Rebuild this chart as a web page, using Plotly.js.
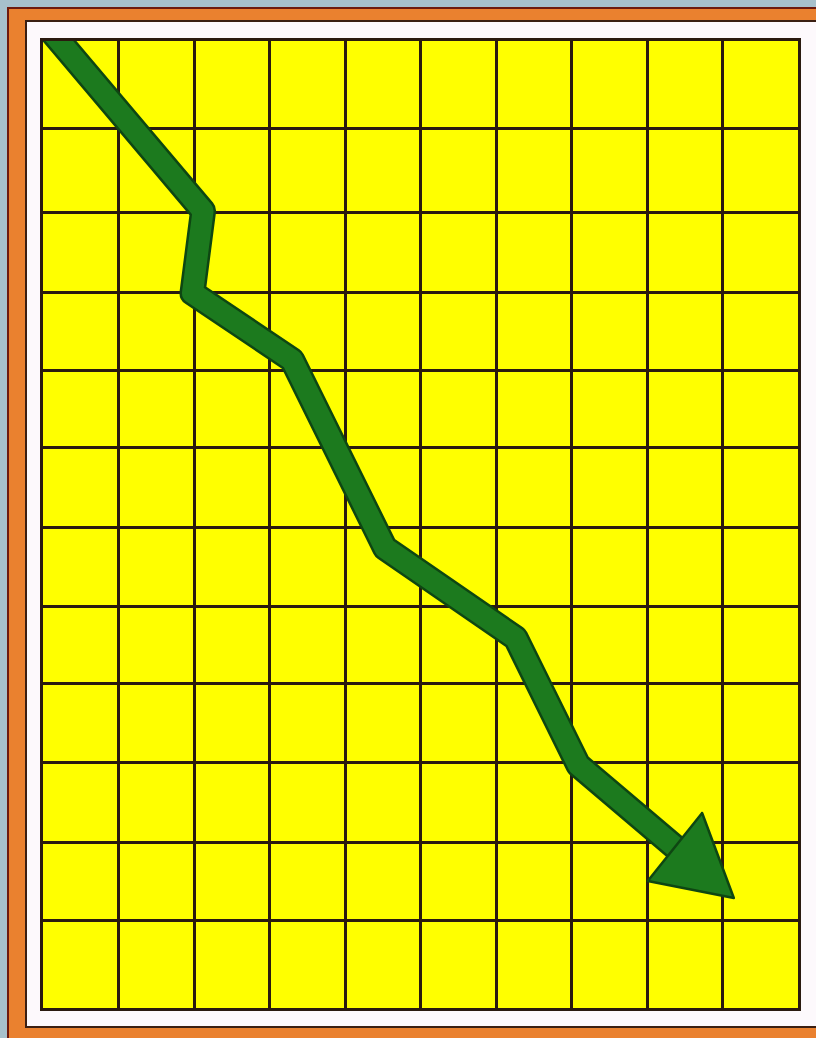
<!DOCTYPE html>
<html>
<head>
<meta charset="utf-8">
<script src="https://cdn.plot.ly/plotly-3.0.1.min.js"></script>
<style>
  html, body { margin: 0; padding: 0; width: 816px; height: 1038px; overflow: hidden; background: #a7c1cc; }
  #outer { position: absolute; left: 7px; top: 7px; width: 1000px; height: 1100px; background: #ea812f;
           border-left: 2px solid #6e1b0e; border-top: 2px solid #6e1b0e; box-sizing: border-box; }
  #inner { position: absolute; left: 25px; top: 20px; width: 1000px; height: 1008px; background: #fdf9fc;
           border: 2px solid #3b1f12; box-sizing: border-box; }
  #plot { position: absolute; left: 0; top: 0; width: 816px; height: 1038px; }
  .scatterlayer path.js-line { stroke-linejoin: round; stroke-linecap: round; }
</style>
</head>
<body>
<div id="outer"></div>
<div id="inner"></div>
<div id="plot"></div>
<script>
// Grid: column edges and row edges (level units, measured from bottom)
const columnEdges = [0, 1, 2, 3, 4, 5, 6, 7, 8, 9, 10];
const rowEdges = [0, 88, 166, 246, 325, 402, 481, 561, 638, 716, 796, 880, 967];

// Falling trend line (green arrow shaft)
const trendX = [-0.04, 2.12, 1.98, 3.30, 4.53, 6.26, 7.09, 8.37];
const trendY = [990, 797, 715, 648, 460, 370, 243, 161];

// Arrow head
const headX = [8.73, 8.01, 9.15, 8.73];
const headY = [195, 127, 110, 195];

const darkGreen = '#0e4612';
const green = '#1c7a1e';

const traces = [
  { x: trendX, y: trendY, mode: 'lines', line: { color: darkGreen, width: 26 }, hoverinfo: 'skip', showlegend: false },
  { x: trendX, y: trendY, mode: 'lines', line: { color: green, width: 21 }, hoverinfo: 'skip', showlegend: false },
  { x: headX, y: headY, mode: 'lines', fill: 'toself', fillcolor: green,
    line: { color: darkGreen, width: 2.5 }, hoverinfo: 'skip', showlegend: false }
];

const gridColor = '#2a1a0f';
const layout = {
  width: 816, height: 1038, autosize: false,
  margin: { l: 43, r: 18, t: 41, b: 30, pad: 0 },
  paper_bgcolor: 'rgba(0,0,0,0)',
  plot_bgcolor: '#ffff00',
  showlegend: false,
  xaxis: {
    range: [columnEdges[0], columnEdges[columnEdges.length - 1]],
    tickvals: columnEdges, showticklabels: false, ticks: '',
    showgrid: true, gridcolor: gridColor, gridwidth: 3,
    zeroline: false, showline: true, mirror: true, linecolor: gridColor, linewidth: 3,
    fixedrange: true
  },
  yaxis: {
    range: [rowEdges[0], rowEdges[rowEdges.length - 1]],
    tickvals: rowEdges, showticklabels: false, ticks: '',
    showgrid: true, gridcolor: gridColor, gridwidth: 3,
    zeroline: false, showline: true, mirror: true, linecolor: gridColor, linewidth: 3,
    fixedrange: true
  }
};

Plotly.newPlot('plot', traces, layout, { staticPlot: true, displayModeBar: false });
</script>
</body>
</html>
